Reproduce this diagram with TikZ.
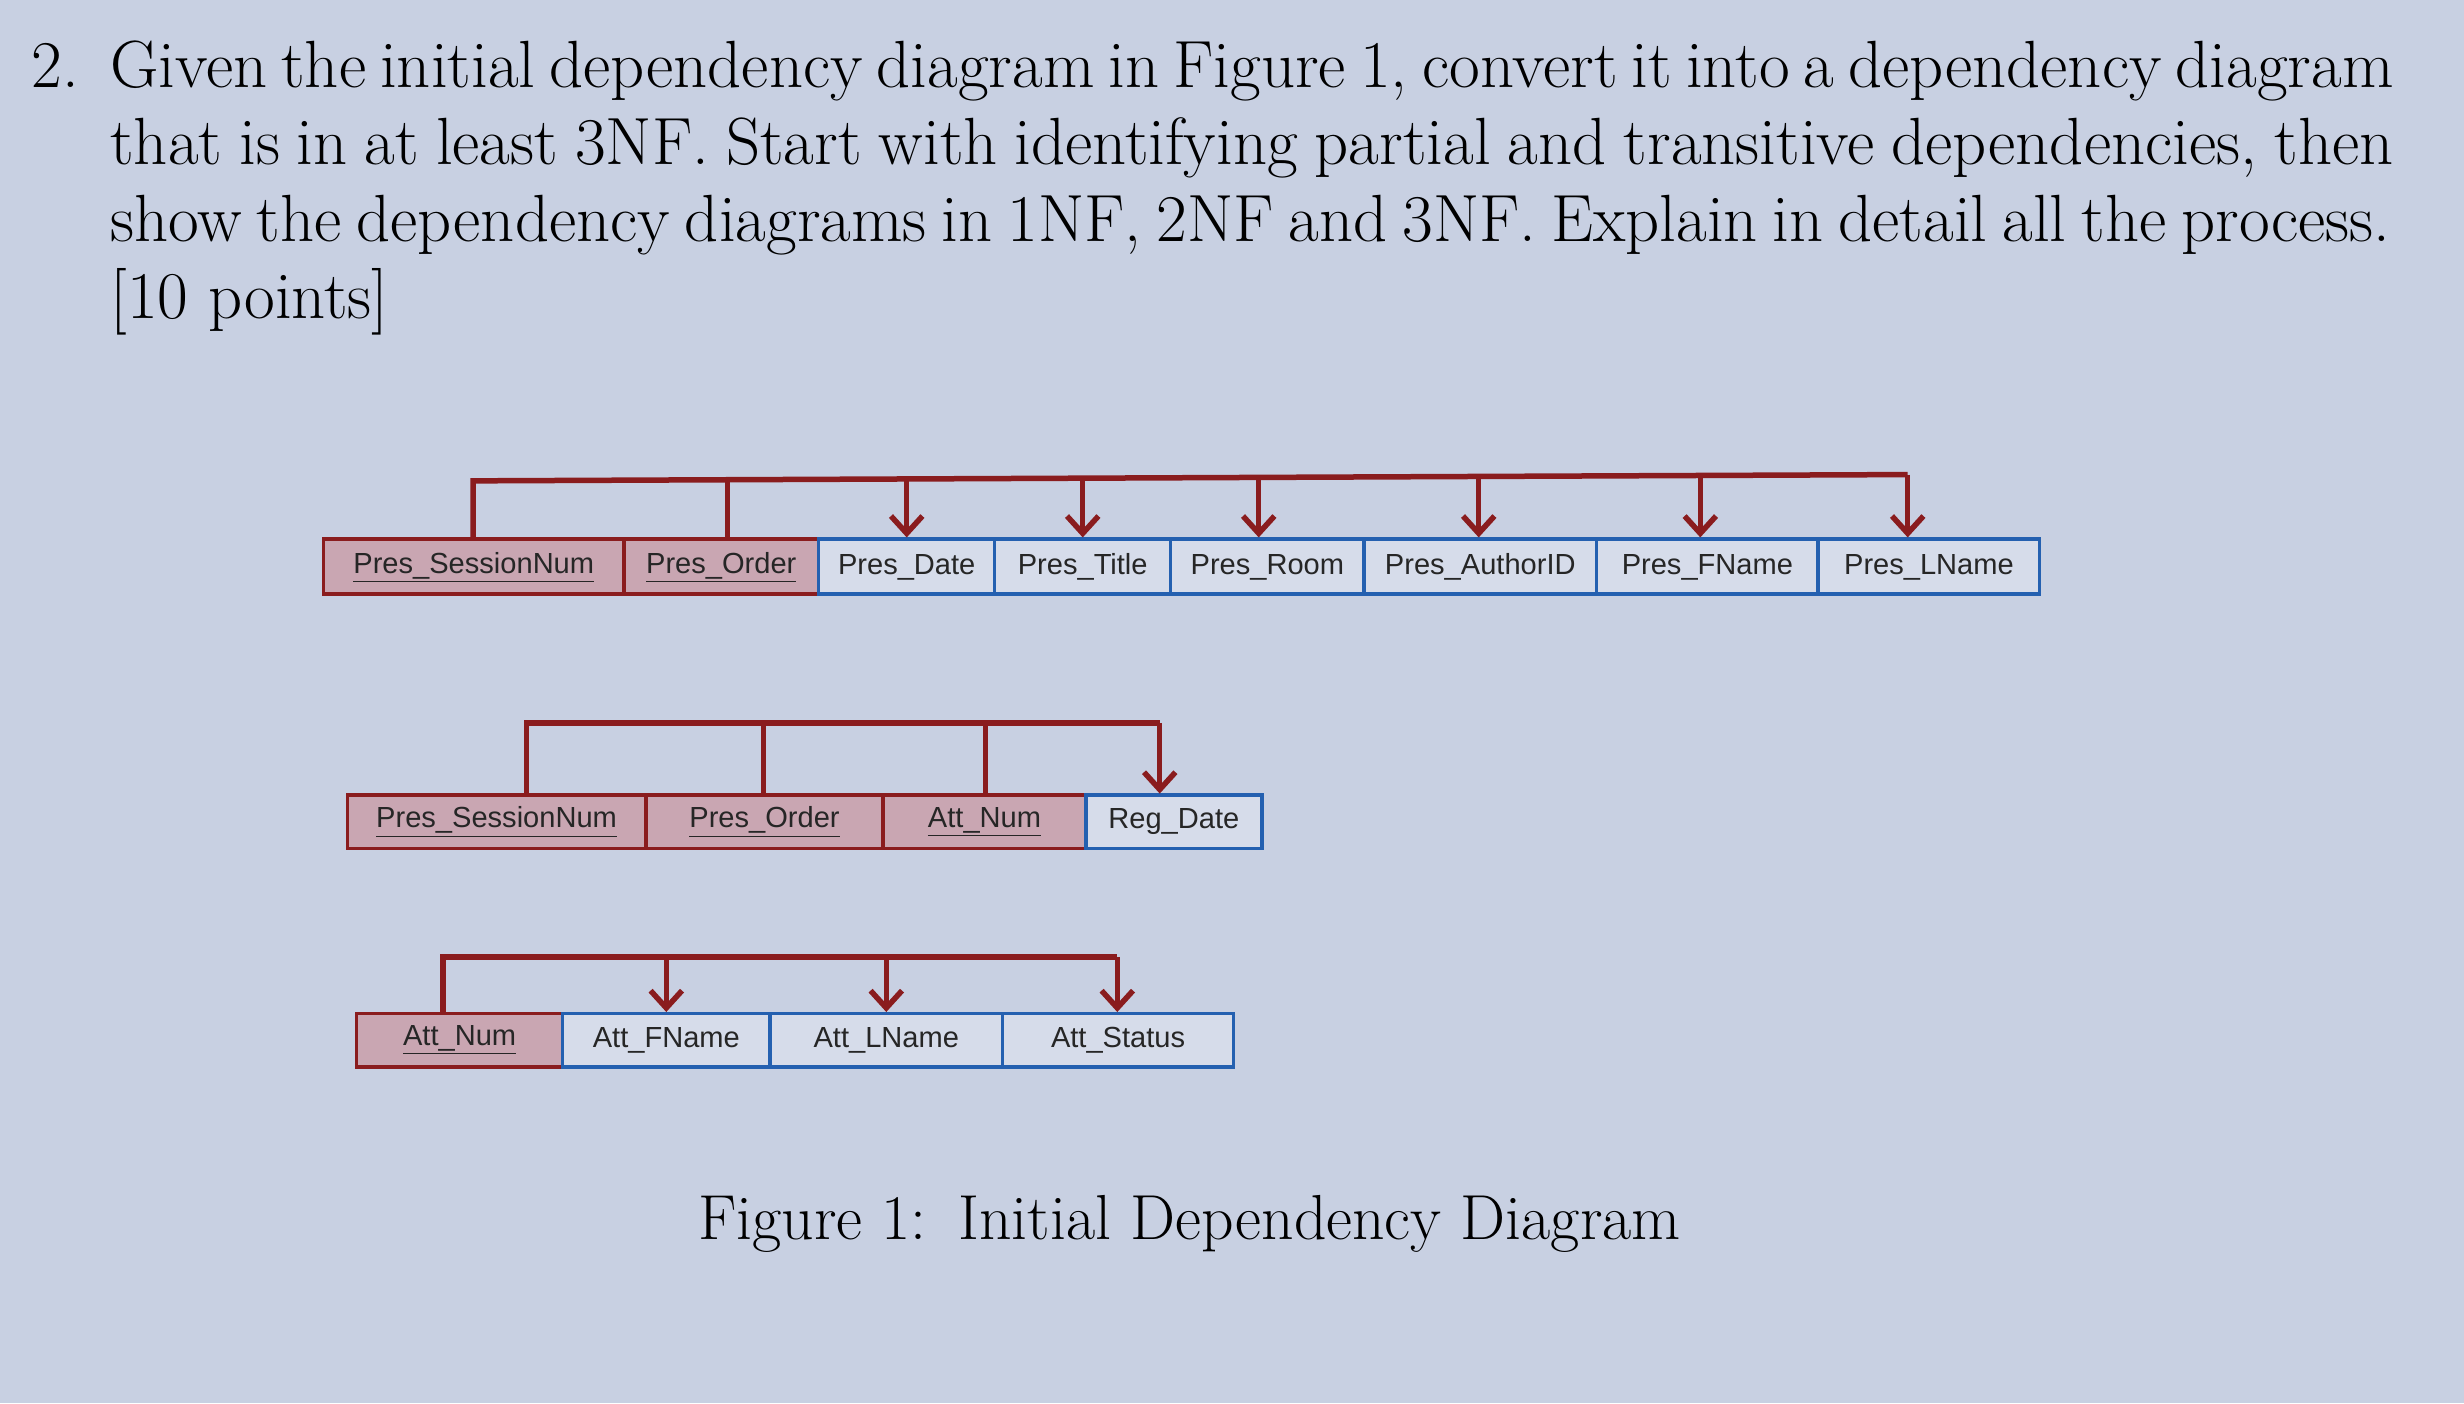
\documentclass[tikz,border=0pt]{standalone}
\usepackage{fontspec}
\newfontfamily\cellfont{Liberation Sans}
\usetikzlibrary{arrows.meta}
\definecolor{bg}{HTML}{C8D0E2}
\definecolor{keyfill}{HTML}{C9A6B2}
\definecolor{dred}{HTML}{8A1C1E}
\definecolor{dblue}{HTML}{2460B0}
\definecolor{cellbg}{HTML}{D6DCEA}
\tikzset{
 keycell/.style={draw=dred,line width=2.2pt,fill=keyfill,inner sep=0pt},
 attcell/.style={draw=dblue,line width=2.2pt,fill=cellbg,inner sep=0pt},
 ctext/.style={font=\cellfont\fontsize{18.5}{22}\selectfont,text=black!85},
 bar/.style={draw=dred,line width=3.5pt},
 dep/.style={draw=dred,line width=3.5pt,-{Straight Barb[length=11pt,width=20pt,line width=3.5pt]}},
 para/.style={anchor=base west,font=\fontsize{42.5}{49}\selectfont,inner sep=0pt}
}
\begin{document}
\begin{tikzpicture}[x=1pt,y=-1pt]
\fill[bg] (0,0) rectangle (1568,893);
\useasboundingbox (0,0) rectangle (1568,893);
\node[para] (num) at (20,56) {2.};
\node[para] (l1) at (70,56) {\makebox[1453pt][s]{Given the initial dependency diagram in Figure 1, convert it into a dependency diagram}};
\node[para] (l2) at (70,105) {\makebox[1453pt][s]{that is in at least 3NF. Start with identifying partial and transitive dependencies, then}};
\node[para] (l3) at (70,154) {\makebox[1451pt][s]{show the dependency diagrams in 1NF, 2NF and 3NF. Explain in detail all the process.}};
\node[para] (l4) at (70,203) {[10 points]};
% Diagram 1
\foreach \a/\b/\t/\s/\n in {206/397/\underline{Pres\_SessionNum}/keycell/a1,397/521/\underline{Pres\_Order}/keycell/a2,521/633/Pres\_Date/attcell/a3,633/745/Pres\_Title/attcell/a4,745/868/Pres\_Room/attcell/a5,868/1016/Pres\_AuthorID/attcell/a6,1016/1157/Pres\_FName/attcell/a7,1157/1298/Pres\_LName/attcell/a8}{
 \draw[\s] (\a,343) rectangle (\b,378);
 \node[ctext] (\n) at ({(\a+\b)/2},361) {\t};
}
\coordinate (b1l) at (301,306); \coordinate (b1r) at (1214,302);
\draw[bar] (301,343) -- (b1l) -- (b1r);
\draw[bar] (463,343) -- (463,305.5);
\foreach \x/\y in {577/305,689/304.6,801/304.2,941/303.6,1082/303,1214/302}
 \draw[dep] (\x,\y) -- (\x,342);
% Diagram 2
\foreach \a/\b/\t/\s/\n in {221/411/\underline{Pres\_SessionNum}/keycell/c1,411/562/\underline{Pres\_Order}/keycell/c2,562/691/\underline{Att\_Num}/keycell/c3,691/803/Reg\_Date/attcell/c4}{
 \draw[\s] (\a,506) rectangle (\b,540);
 \node[ctext] (\n) at ({(\a+\b)/2},523) {\t};
}
\draw[bar] (335,506) -- (335,460) -- (738,460);
\draw[bar] (486,506) -- (486,460);
\draw[bar] (627,506) -- (627,460);
\draw[dep] (738,460) -- (738,505);
% Diagram 3
\foreach \a/\b/\t/\s/\n in {227/358/\underline{Att\_Num}/keycell/d1,358/490/Att\_FName/attcell/d2,490/638/Att\_LName/attcell/d3,638/785/Att\_Status/attcell/d4}{
 \draw[\s] (\a,645) rectangle (\b,679);
 \node[ctext] (\n) at ({(\a+\b)/2},662) {\t};
}
\draw[bar] (282,645) -- (282,609) -- (711,609);
\foreach \x in {424,564,711} \draw[dep] (\x,609) -- (\x,644);
\node[font=\fontsize{40.5}{48}\selectfont] (cap) at (757,779) {Figure 1:\enspace Initial Dependency Diagram};
\end{tikzpicture}
\end{document}
